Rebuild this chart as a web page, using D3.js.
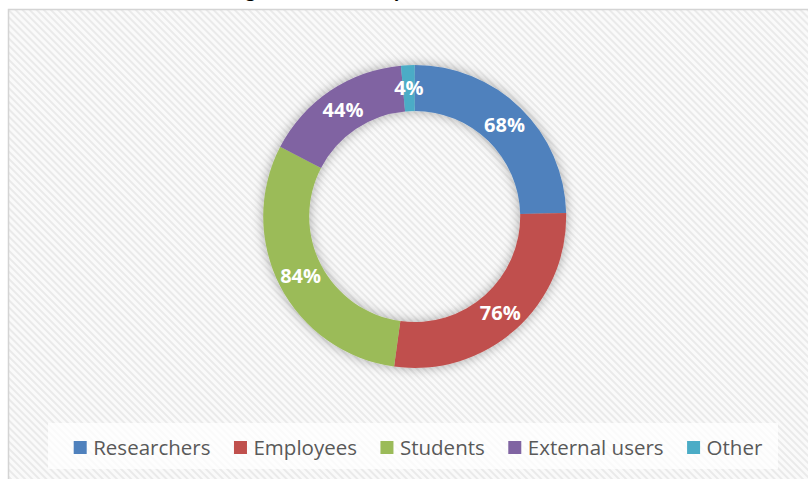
<!DOCTYPE html>
<html>
<head>
<meta charset="utf-8">
<script src="https://cdn.jsdelivr.net/npm/d3@7"></script>
<style>
  html, body { margin: 0; padding: 0; background: #ffffff; }
  svg { display: block; }
</style>
</head>
<body>
<svg id="chart" width="808" height="479"></svg>
<script>
// User groups and the share of each group that uses the service
const categories = ["Researchers", "Employees", "Students", "External users", "Other"];
const values = [68, 76, 84, 44, 4];
const valueLabels = ["68%", "76%", "84%", "44%", "4%"];
const colors = ["#4F81BD", "#C0504D", "#9BBB59", "#8064A2", "#4BACC6"];
const titleText = "Usage of the tool by stakeholder role";

const W = 808, H = 479;
const svg = d3.select("#chart");
const defs = svg.append("defs");

// diagonal hatch used for the plot background
const pat = defs.append("pattern")
  .attr("id", "hatch")
  .attr("patternUnits", "userSpaceOnUse")
  .attr("width", 5).attr("height", 5)
  .attr("patternTransform", "rotate(45)");
pat.append("rect").attr("width", 5).attr("height", 5).attr("fill", "#fafafa");
pat.append("rect").attr("y", 0).attr("width", 5).attr("height", 2).attr("fill", "#eaeaea");

// soft shadow around the ring
const f = defs.append("filter").attr("id", "soft")
  .attr("x", "-30%").attr("y", "-30%").attr("width", "160%").attr("height", "160%");
f.append("feGaussianBlur").attr("in", "SourceAlpha").attr("stdDeviation", 6).attr("result", "b");
f.append("feFlood").attr("flood-color", "#000").attr("flood-opacity", 0.34).attr("result", "c");
f.append("feComposite").attr("in", "c").attr("in2", "b").attr("operator", "in").attr("result", "s");
const m = f.append("feMerge");
m.append("feMergeNode").attr("in", "s");
m.append("feMergeNode").attr("in", "SourceGraphic");

// title (sits above the chart frame)
svg.append("text")
  .attr("x", 208).attr("y", -3)
  .attr("font-family", "Lato, 'Open Sans', sans-serif")
  .attr("font-weight", "bold")
  .attr("font-size", 22)
  .attr("fill", "#000")
  .text(titleText);

// chart frame
svg.append("rect")
  .attr("x", 8.5).attr("y", 9.5)
  .attr("width", W).attr("height", H)
  .attr("fill", "url(#hatch)")
  .attr("stroke", "#d4d4d4").attr("stroke-width", 1.5);

// donut
const cx = 414.7, cy = 216.5, rOuter = 151.5, rInner = 105.5;
const pie = d3.pie().sort(null).value(d => d.v);
const arcs = pie(categories.map((c, i) => ({ c, v: values[i], label: valueLabels[i], color: colors[i] })));
const arc = d3.arc().innerRadius(rInner).outerRadius(rOuter);

const g = svg.append("g").attr("transform", `translate(${cx},${cy})`);
g.append("g").attr("filter", "url(#soft)")
  .selectAll("path").data(arcs).join("path")
  .attr("d", arc)
  .attr("fill", d => d.data.color);

g.selectAll("text.lbl").data(arcs).join("text")
  .attr("class", "lbl")
  .attr("transform", d => `translate(${arc.centroid(d)})`)
  .attr("text-anchor", "middle")
  .attr("dy", "0.36em")
  .attr("font-family", "'Open Sans', sans-serif")
  .attr("font-weight", "bold")
  .attr("font-size", 20)
  .attr("fill", "#ffffff")
  .text(d => d.data.label);

// legend
svg.append("rect")
  .attr("x", 48).attr("y", 423).attr("width", 730).attr("height", 46)
  .attr("fill", "#ffffff").attr("opacity", 0.75);

const lg = svg.append("g");
const sq = 13, txtGap = 6.5, itemGap = 23.5;
const items = lg.selectAll("g").data(categories).join("g");
items.append("rect")
  .attr("width", sq).attr("height", sq)
  .attr("y", 441)
  .attr("fill", (d, i) => colors[i]);
items.append("text")
  .attr("x", sq + txtGap)
  .attr("y", 454.5)
  .attr("font-family", "'Open Sans', sans-serif")
  .attr("font-size", 20.5)
  .attr("fill", "#595959")
  .text(d => d);

let x = 0;
const widths = [];
items.each(function () {
  widths.push(sq + txtGap + d3.select(this).select("text").node().getComputedTextLength());
});
const total = d3.sum(widths) + itemGap * (widths.length - 1);
x = 418 - total / 2;
items.each(function (d, i) {
  d3.select(this).attr("transform", `translate(${x},0)`);
  x += widths[i] + itemGap;
});
</script>
</body>
</html>
